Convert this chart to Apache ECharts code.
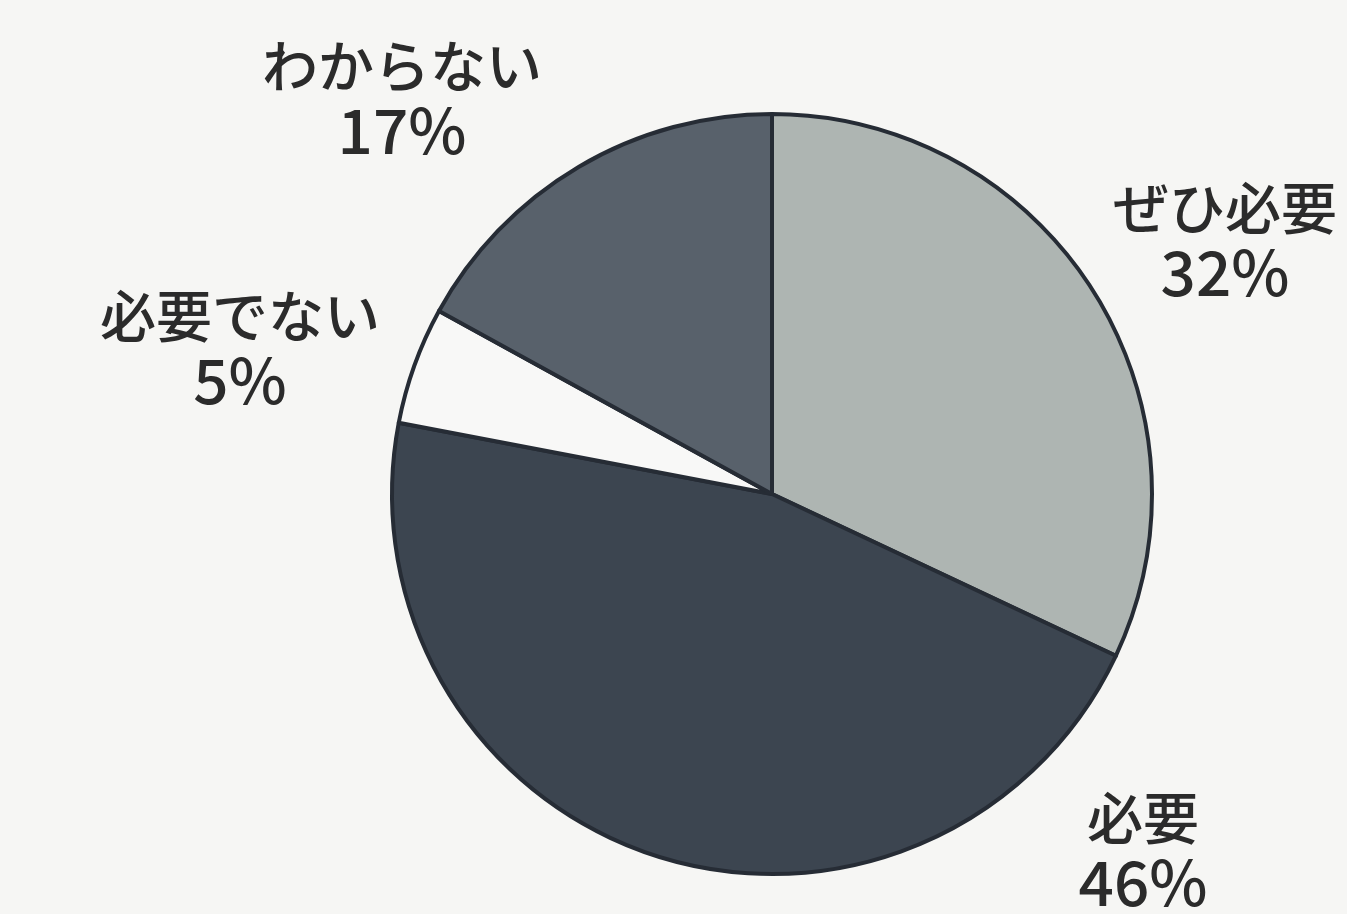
<!DOCTYPE html>
<html>
<head>
<meta charset="utf-8">
<script src="https://cdn.jsdelivr.net/npm/echarts@6/dist/echarts.min.js"></script>
<style>
html,body{margin:0;padding:0;background:#f6f6f4;}
#c{width:1347px;height:914px;}
</style>
</head>
<body>
<div id="c"></div>
<script>
const categories = ['ぜひ必要', '必要', '必要でない', 'わからない'];
const values = [32, 46, 5, 17];

const sliceColors = ['#aeb5b2', '#3c4550', '#f8f8f7', '#58616b'];
const labelSpots = [[1225, 240], [1143, 850], [240, 348], [402, 98]];

const chart = echarts.init(document.getElementById('c'));
chart.setOption({
  backgroundColor: '#f6f6f4',
  animation: false,
  series: [{
    type: 'pie',
    center: [772, 494],
    radius: 380,
    startAngle: 90,
    clockwise: true,
    data: categories.map((n, i) => ({
      name: n,
      value: values[i],
      itemStyle: { color: sliceColors[i] }
    })),
    itemStyle: { borderColor: '#262c35', borderWidth: 4 },
    label: {
      show: true,
      position: 'outside',
      alignTo: 'none',
      overflow: 'none',
      edgeDistance: 0,
      formatter: p => '{n|' + p.name + '}\n{p|' + p.value + '%}',
      color: '#2b2b2b',
      rich: {
        n: { fontFamily: 'Noto Sans CJK JP', fontSize: 56, fontWeight: 500, lineHeight: 64, color: '#2b2b2b', align: 'center' },
        p: { fontFamily: 'Noto Sans CJK JP', fontSize: 62, fontWeight: 500, lineHeight: 64, color: '#2b2b2b', align: 'center' }
      }
    },
    labelLine: { show: false },
    labelLayout: function (params) {
      const s = labelSpots[params.dataIndex];
      return { x: s[0], y: s[1], align: 'center', verticalAlign: 'middle', hideOverlap: false, moveOverlap: null };
    },
    emphasis: { disabled: true }
  }]
});
</script>
</body>
</html>
